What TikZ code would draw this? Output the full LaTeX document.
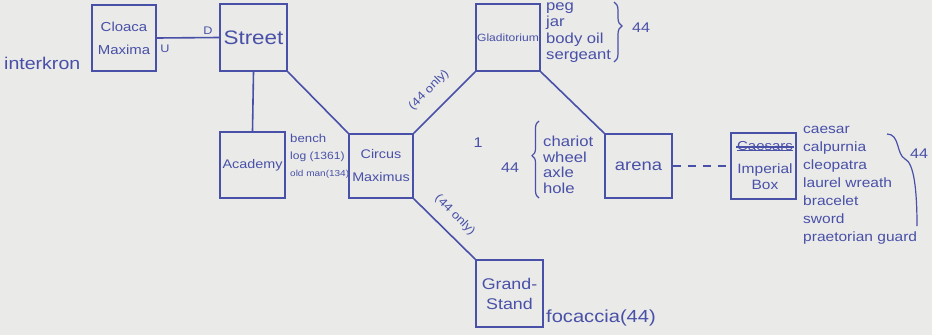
\documentclass[tikz,border=0pt]{standalone}
\usepackage{fontspec}
\setmainfont{Liberation Sans}[FakeStretch=1.15]
\usetikzlibrary{decorations.pathreplacing}
\definecolor{ink}{RGB}{72,80,168}
\definecolor{paper}{RGB}{234,234,232}
\tikzset{
  room/.style={draw=ink, line width=1.6pt, text=ink, minimum width=#1, inner sep=0pt, align=center},
  link/.style={draw=ink, line width=1.6pt},
  note/.style={text=ink, inner sep=0pt, align=left},
  bracket/.style={draw=ink, line width=1.2pt, decorate, decoration={brace, amplitude=7pt}},
}
\begin{document}
\begin{tikzpicture}[x=1pt,y=-1pt]
\fill[paper] (0,0) rectangle (932,335);
\useasboundingbox (0,0) rectangle (932,335);

% rooms
\node[room=64pt, minimum height=66pt, font=\fontsize{13}{23}\selectfont] (cloaca) at (124,38) {Cloaca\\Maxima};
\node[room=67pt, minimum height=67pt, font=\fontsize{19.5}{22}\selectfont] (street) at (253.5,37.5) {Street};
\node[room=65pt, minimum height=66pt, font=\fontsize{12.5}{15}\selectfont] (academy) at (252.5,165) {Academy};
\node[room=64pt, minimum height=64pt, font=\fontsize{12.5}{23}\selectfont] (circus) at (381,166) {Circus\\Maximus};
\node[room=64pt, minimum height=67pt, font=\fontsize{10.5}{12}\selectfont] (glad) at (508,37.5) {Gladitorium};
\node[room=67pt, minimum height=64pt, font=\fontsize{16}{18}\selectfont] (arena) at (638.5,166) {arena};
\node[room=65pt, minimum height=66pt] (imperial) at (763.5,166) {};
\node[room=67pt, minimum height=67pt, font=\fontsize{15.5}{20}\selectfont] (grand) at (509.5,293.5) {Grand-\\Stand};

% imperial box text
\node[note, font=\fontsize{13}{15}\selectfont] (caesars) at (765,146) {Caesars};
\draw[ink, line width=1.2pt] ([xshift=-1pt,yshift=-1pt]caesars.west) -- ([xshift=1pt,yshift=-1pt]caesars.east);
\draw[ink, line width=1pt] ([yshift=-4pt]caesars.west) -- ([yshift=-4pt]caesars.east);
\node[note, align=center, font=\fontsize{13.5}{16}\selectfont] (impname) at (765,177) {Imperial\\Box};

% connectors
\draw[link] (cloaca.east) -- (street.west);
\node[note, font=\fontsize{11}{12}\selectfont] (dlab) at (208,31) {D};
\node[note, font=\fontsize{11}{12}\selectfont] (ulab) at (165,49) {U};
\draw[link] (street.south) -- (academy.north);
\draw[link] (street.south east) -- (circus.north west);
\draw[link] (circus.north east) -- (glad.south west);
\node[note, rotate=45, font=\fontsize{11.5}{13}\selectfont] (lab1) at (429,90) {(44 only)};
\draw[link] (glad.south east) -- (arena.north west);
\draw[link] (circus.south east) -- (grand.north west);
\node[note, rotate=-45, font=\fontsize{11.5}{13}\selectfont] (lab2) at (455,215) {(44 only)};
\draw[link, dashed, dash pattern=on 8pt off 7pt] (arena.east) -- (imperial.west);

% notes
\node[note, anchor=west, font=\fontsize{17}{19}\selectfont] (interkron) at (4,63) {interkron};
\node[note, anchor=north west, font=\fontsize{8.7}{17}\selectfont] (acadlist) at (290,134) {{\fontsize{11.5}{13}\selectfont bench}\\{\fontsize{10.5}{13}\selectfont log (1361)}\\old man(134)};
\node[note, anchor=north west, font=\fontsize{14.5}{16.5}\selectfont] (gladlist) at (546,2) {peg\\jar\\body oil\\sergeant};
\draw[bracket, decoration={brace, amplitude=8pt, aspect=0.4}] (614,2) -- (614,62);
\node[note, font=\fontsize{14}{16}\selectfont] (g44) at (641,28) {44};
\node[note, font=\fontsize{14}{16}\selectfont] (one) at (478,143) {1};
\node[note, font=\fontsize{14}{16}\selectfont] (a44) at (510,168) {44};
\draw[bracket, decoration={brace, amplitude=7pt, aspect=0.55}] (539,198) -- (539,121);
\node[note, anchor=north west, font=\fontsize{14.5}{15.5}\selectfont] (arenalist) at (543,136) {chariot\\wheel\\axle\\hole};
\node[note, anchor=north west, font=\fontsize{13.5}{18}\selectfont] (implist) at (803,126) {caesar\\calpurnia\\cleopatra\\laurel wreath\\bracelet\\sword\\praetorian guard};
\draw[ink, line width=1.2pt] (887,134) .. controls (900,134) and (896,154) .. (905,159)
  .. controls (914,163) and (917,190) .. (917,226);
\node[note, anchor=west, font=\fontsize{14}{16}\selectfont] (i44) at (910,154) {44};
\node[note, anchor=west, font=\fontsize{17.5}{20}\selectfont] (focaccia) at (546,318) {focaccia(44)};
\end{tikzpicture}
\end{document}
